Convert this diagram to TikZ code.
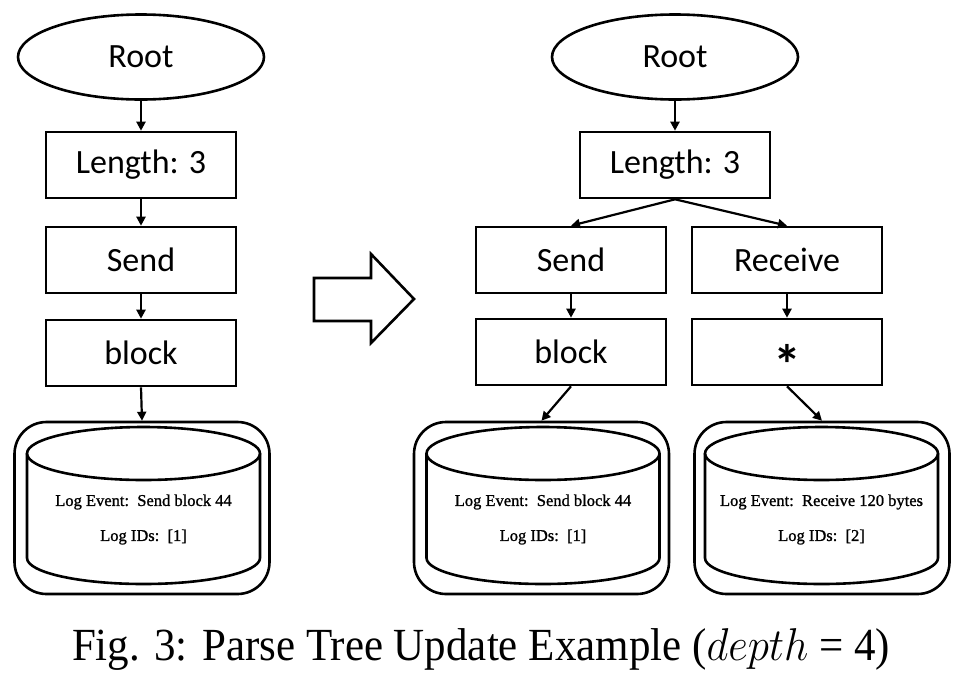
\RequirePackage{fix-cm}
\documentclass[tikz,border=0pt]{standalone}
\usepackage{fontspec}
\setmainfont{Liberation Serif}
\newfontfamily\calibri{Carlito}
\newfontface\logfont{Liberation Serif}[FakeBold=1.2]
\usetikzlibrary{shapes.geometric,arrows.meta}
\begin{document}
\begin{tikzpicture}[x=1pt,y=-1pt,
  lw/.style={line width=2.6pt},
  rootnode/.style={ellipse,draw,lw,minimum width=246pt,minimum height=85pt,inner sep=0pt,font=\calibri\fontsize{34}{40}\selectfont},
  keybox/.style={draw,lw,minimum width=190pt,minimum height=66pt,inner sep=0pt,font=\calibri\fontsize{34}{40}\selectfont},
  container/.style={draw,lw,rounded corners=32pt,minimum width=255pt,minimum height=172pt,inner sep=0pt},
  edge/.style={line width=2.2pt,-{Triangle[length=9pt,width=9pt]}},
  logtext/.style={font=\logfont\fontsize{16.5}{19}\selectfont},
  bigarrow/.style={lw,line join=miter}
]
\useasboundingbox (0,0) rectangle (963,678);
% left tree
\node[rootnode] (L0) at (141,57) {Root};
\node[keybox] (L1) at (141,165) {Length: 3};
\node[keybox] (L2) at (141,260) {Send};
\node[keybox] (L3) at (141,353) {block};
\node[container] (LC) at (142,508) {};
% right tree
\node[rootnode] (R0) at (675,57) {Root};
\node[keybox] (R1) at (675,165) {Length: 3};
\node[keybox] (R2) at (571,260) {Send};
\node[keybox] (R3) at (787,260) {Receive};
\node[keybox] (R4) at (571,352) {block};
\node[keybox] (R5) at (787,352) {\raisebox{-32.5pt}[0pt][0pt]{\fontsize{56}{56}\selectfont\bfseries *}};
\node[container] (RC1) at (541.5,508) {};
\node[container] (RC2) at (822,508) {};
% cylinders
\foreach \cx in {143.5,543,821.5}{
  \draw[lw] (\cx,453.5) ellipse [x radius=116.5pt, y radius=26.5pt];
  \draw[lw] (\cx-116.5,453.5) -- (\cx-116.5,558) arc[start angle=180,end angle=0,x radius=116.5,y radius=26] -- (\cx+116.5,453.5);
}
\node[logtext] (LT1) at (143.5,502) {Log Event:\ \ Send block 44};
\node[logtext] (LT2) at (143.5,537) {Log IDs:\ \ [1]};
\node[logtext] (RT1) at (543,502) {Log Event:\ \ Send block 44};
\node[logtext] (RT2) at (543,537) {Log IDs:\ \ [1]};
\node[logtext] (RT3) at (821.5,502) {Log Event:\ \ Receive 120 bytes};
\node[logtext] (RT4) at (821.5,537) {Log IDs:\ \ [2]};
% edges
\draw[edge] (L0) -- (L1);
\draw[edge] (L1) -- (L2);
\draw[edge] (L2) -- (L3);
\draw[edge] (L3.south) -- (LC.north);
\draw[edge] (R0) -- (R1);
\draw[edge] (R1.south) -- (R2.north);
\draw[edge] (R1.south) -- (R3.north);
\draw[edge] (R2) -- (R4);
\draw[edge] (R3) -- (R5);
\draw[edge] (R4.south) -- (RC1.north);
\draw[edge] (R5.south) -- (RC2.north);
% big arrow
\draw[bigarrow] (314,278) -- (371,278) -- (371,254) -- (414,299) -- (371,343) -- (371,321) -- (314,321) -- cycle;
% caption
\node[anchor=base] (cap) at (481,660) {\scalebox{0.934}[1]{\fontsize{46}{52}\selectfont Fig. 3: Parse Tree Update Example ($depth$ = 4)}};
\end{tikzpicture}
\end{document}
